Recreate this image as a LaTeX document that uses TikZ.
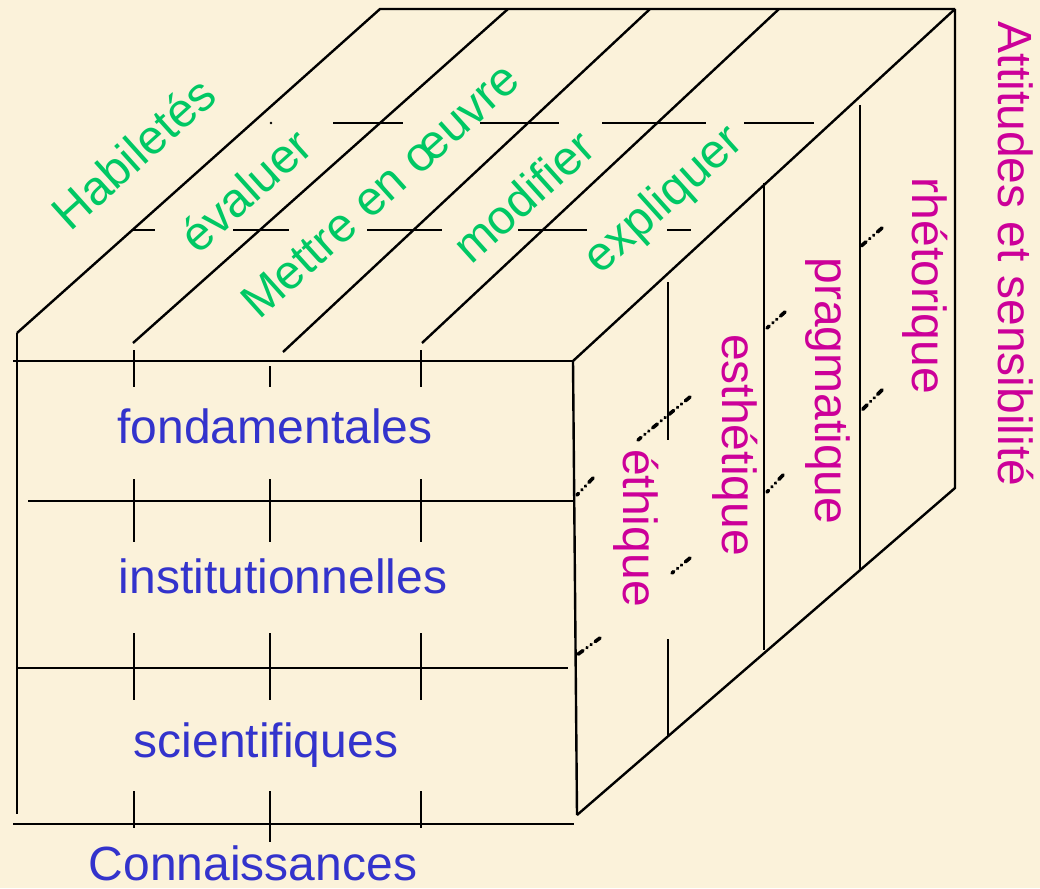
\documentclass[tikz,border=0pt]{standalone}
\usepackage{fontspec}
\setmainfont{Liberation Sans}
\definecolor{bgc}{RGB}{251,242,218}
\definecolor{grn}{RGB}{0,200,100}
\definecolor{blu}{RGB}{51,51,204}
\definecolor{mag}{RGB}{204,0,153}
\tikzset{
  edge/.style={line width=2.4pt, black},
  hid/.style={line width=2.4pt, black},
  dd/.style={line width=3.6pt, black, line cap=round, dash pattern=on 6pt off 5pt on 0.1pt off 5pt on 0.1pt off 5pt},
  lab/.style={font=\fontsize{48}{56}\selectfont, inner sep=0pt},
  glab/.style={lab, text=grn, rotate=42, anchor=center},
  blab/.style={lab, text=blu, anchor=base},
  mlab/.style={lab, text=mag, rotate=-90, anchor=base}
}
\begin{document}
\begin{tikzpicture}[x=1pt,y=-1pt]
\fill[bgc] (0,0) rectangle (1040,888);
\useasboundingbox (0,0) rectangle (1040,888);
% top face
\draw[edge] (17,333) -- (380,9) -- (955,9);
\draw[edge] (133,343) -- (508,9);
\draw[edge] (283,352) -- (650,9);
\draw[edge] (422,343) -- (779,9);
\draw[edge] (573,361) -- (955,9);
% top face hidden pieces
\foreach \a/\b in {333/403,480/559,602/706,744/814} \draw[hid] (\a,123) -- (\b,123);
\fill (271,123) circle (1.4pt);
\foreach \a/\b in {133/155,233/289,367/442,518/587,667/691} \draw[hid] (\a,230) -- (\b,230);
% front face
\draw[edge] (17,333) -- (17,814);
\draw[edge] (13,361) -- (573,361);
\draw[edge] (28,501) -- (573,501);
\draw[edge] (17,668) -- (568,668);
\draw[edge] (13,824) -- (574,824);
\draw[edge] (573,361) -- (577,815);
\foreach \x in {134,421} {
  \draw[edge] (\x,350) -- (\x,387);
  \draw[edge] (\x,479) -- (\x,542);
  \draw[edge] (\x,633) -- (\x,700);
  \draw[edge] (\x,791) -- (\x,828);
}
\draw[edge] (270,366) -- (270,387);
\draw[edge] (270,479) -- (270,542);
\draw[edge] (270,633) -- (270,700);
\draw[edge] (270,791) -- (270,842);
% right face
\draw[edge] (577,815) -- (955,488) -- (955,9);
\draw[edge] (668,282) -- (668,440);
\draw[edge] (668,639) -- (668,737);
\draw[edge] (764,183) -- (764,650);
\draw[edge] (860,105) -- (860,569);
% hidden dash-dot pieces on right face
\draw[dd] (593,478) -- (577,495);
\draw[dd] (690,397) -- (638,440);
\draw[dd] (690,558) -- (672,573);
\draw[dd] (600,638) -- (577,655);
\draw[dd] (882,228) -- (860,247);
\draw[dd] (785,312) -- (767,328);
\draw[dd] (882,390) -- (862,410);
\draw[dd] (783,475) -- (767,492);
% green labels
\node[glab] (hab) at (133,153) {Habiletés};
\node[glab] (eva) at (245,190) {évaluer};
\node[glab] (met) at (380,190) {Mettre en œuvre};
\node[glab] (mod) at (523,196) {modifier};
\node[glab] (exp) at (665,201) {expliquer};
% blue labels
\node[blab] (fon) at (275,443) {fondamentales};
\node[blab] (ins) at (283,593) {institutionnelles};
\node[blab] (sci) at (266,757) {scientifiques};
\node[blab] (con) at (253,880) {Connaissances};
% magenta labels
\node[mlab] (att) at (998,254) {Attitudes et sensibilité};
\node[mlab] (rhe) at (912,286) {rhétorique};
\node[mlab] (pra) at (815,391) {pragmatique};
\node[mlab] (est) at (722,445) {esthétique};
\node[mlab] (eth) at (623,528) {éthique};
\end{tikzpicture}
\end{document}
